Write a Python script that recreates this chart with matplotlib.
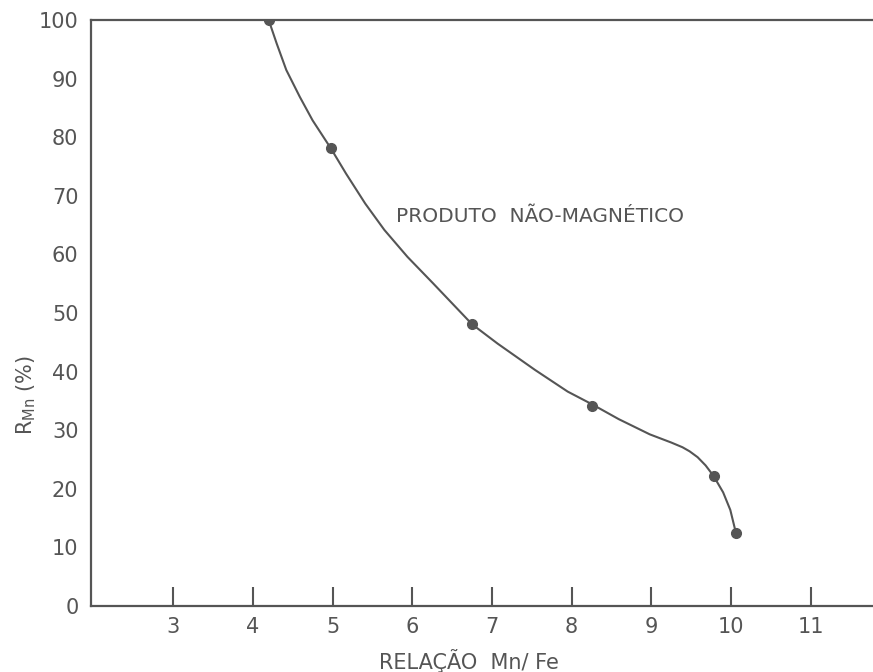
import matplotlib.pyplot as plt

# pontos medidos
mn_fe = [4.20, 4.98, 6.75, 8.26, 9.78, 10.06]
r_mn = [100.0, 78.1, 48.1, 34.2, 22.2, 12.5]

# curva desenhada a mao
curva_x = [4.20, 4.30, 4.42, 4.59, 4.75, 4.98, 5.17, 5.41, 5.65, 5.94,
           6.26, 6.54, 6.75, 7.07, 7.54, 7.95, 8.26, 8.59, 8.98, 9.25,
           9.39, 9.48, 9.58, 9.68, 9.78, 9.90, 9.99, 10.06]
curva_y = [100.0, 96.0, 91.5, 86.9, 82.9, 78.1, 73.8, 68.7, 64.2, 59.6,
           55.1, 51.1, 48.1, 44.8, 40.3, 36.6, 34.4, 31.9, 29.3, 27.9,
           27.1, 26.4, 25.4, 24.0, 22.2, 19.4, 16.4, 12.5]

xticks = [3, 4, 5, 6, 7, 8, 9, 10, 11]
yticks = [0, 10, 20, 30, 40, 50, 60, 70, 80, 90, 100]

cor = "#555555"

fig = plt.figure(figsize=(8.73, 6.72), dpi=100)
ax = fig.add_axes([0.1042, 0.0982, 1 - 0.1042, 0.970 - 0.0982])

ax.plot(curva_x, curva_y, c=cor, linewidth=1.5, solid_joinstyle="round")
ax.plot(mn_fe, r_mn, "o", c=cor, markersize=7)

ax.set_xlim(1.97, 11.78)
ax.set_ylim(0, 100)
ax.set_xticks(xticks)
ax.set_yticks(yticks)
ax.tick_params(axis="x", direction="in", length=14, width=1.5, color=cor,
               labelsize=15, labelcolor=cor, pad=8)
ax.tick_params(axis="y", direction="in", length=7, width=1.5, color=cor,
               labelsize=15, labelcolor=cor, pad=9)
for t in ax.yaxis.get_major_ticks():
    if t.get_loc() in (0, 100):
        t.tick1line.set_visible(False)

for s in ["left", "bottom", "top"]:
    ax.spines[s].set_color(cor)
    ax.spines[s].set_linewidth(1.6)
ax.spines["right"].set_visible(False)

ax.set_xlabel("RELAÇÃO  Mn/ Fe", fontsize=15, color=cor)
ax.xaxis.set_label_coords(0.483, -0.074)
ax.set_ylabel(r"R$_{\mathrm{Mn}}$ (%)", fontsize=15, color=cor)
ax.yaxis.set_label_coords(-0.068, 0.36)
ax.text(5.80, 66.5, "PRODUTO  NÃO-MAGNÉTICO", fontsize=14.5, color=cor,
        va="center", ha="left")

plt.savefig("out.png", dpi=100)
